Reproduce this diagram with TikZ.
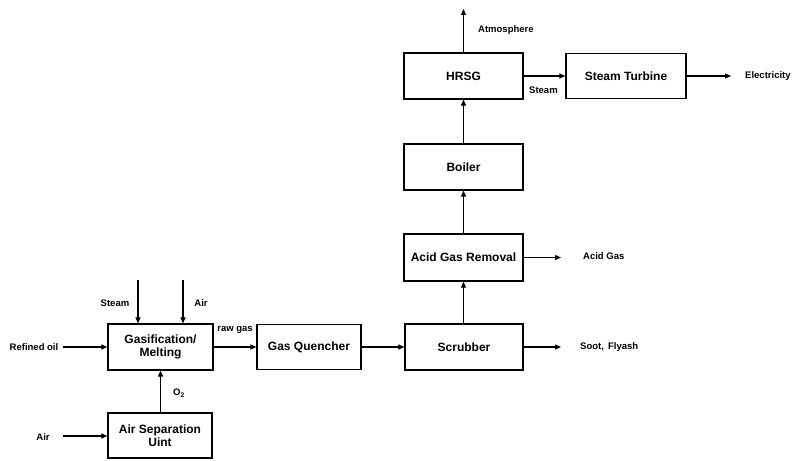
\documentclass[tikz,border=0pt]{standalone}
\usepackage{fontspec}
\setmainfont{Liberation Sans}
\usepackage{tikz}
\usetikzlibrary{
    arrows.meta,
    positioning
}

\tikzset{
    unit/.style={draw, line width=1.2pt, font=\fontsize{12}{13}\selectfont\bfseries,
        align=center, minimum width=119pt, minimum height=46pt, inner sep=2pt},
    flow/.style={line width=1.1pt, -{Triangle[length=6pt,width=5pt]}},
    tag/.style={font=\fontsize{9.5}{10}\selectfont\bfseries, inner sep=1pt}
}

\begin{document}
\begin{tikzpicture}[x=1pt,y=-1pt]

\useasboundingbox (0,0) rectangle (794,460);

% Process units
\node[unit, minimum width=105pt] (gasif) at (160.5,347) {Gasification/\\Melting};
\node[unit, minimum width=104pt, minimum height=45pt] (asu) at (160,435.5) {Air Separation\\Uint};
\node[unit, minimum width=104pt, minimum height=45pt] (quench) at (309,347) {Gas Quencher};
\node[unit, minimum width=118pt] (scrub) at (464,347) {Scrubber};
\node[unit, minimum height=47pt] (agr) at (463.5,257.5) {Acid Gas Removal};
\node[unit] (boiler) at (463.5,167) {Boiler};
\node[unit] (hrsg) at (463.5,76) {HRSG};
\node[unit, minimum width=120pt, minimum height=45pt] (turbine) at (626,76) {Steam Turbine};

% Free ends
\coordinate (oilin) at (63,347);
\coordinate (airin) at (63,436);
\coordinate (steamin) at (138,280);
\coordinate (airtop) at (183,280);
\coordinate (soot) at (561,347);
\coordinate (acid) at (561,257.5);
\coordinate (atm) at (463.5,9);
\coordinate (elec) at (731,76);

% Feeds
\draw[flow] (oilin) -- (gasif.west);
\draw[flow] (airin) -- (airin -| asu.west);
\draw[flow] (steamin) -- (steamin |- gasif.north);
\draw[flow] (airtop) -- (airtop |- gasif.north);
\draw[flow] (asu.north -| gasif) -- (gasif.south);

% Main gas line
\draw[flow] (gasif.east) -- (quench.west);
\draw[flow] (quench.east) -- (scrub.west);
\draw[flow] (scrub.north -| agr) -- (agr.south);
\draw[flow] (agr.north) -- (boiler.south);
\draw[flow] (boiler.north) -- (hrsg.south);
\draw[flow] (hrsg.east) -- (turbine.west);

% Outlets
\draw[flow] (scrub.east) -- (soot);
\draw[flow] (agr.east) -- (acid);
\draw[flow] (hrsg.north) -- (atm);
\draw[flow] (turbine.east) -- (elec);

% Labels
\node[tag] (loil) at (34,347) {Refined oil};
\node[tag] (lair) at (43,437) {Air};
\node[tag] (lsteam) at (115,303) {Steam};
\node[tag] (lairtop) at (201,303) {Air};
\node[tag] (lo2) at (179,393) {O\textsubscript{2}};
\node[tag] (lraw) at (235,330) {raw gas};
\node[tag, anchor=west] (lsoot) at (579,347) {Soot,\, Flyash};
\node[tag, anchor=west] (lacid) at (582,256) {Acid Gas};
\node[tag, anchor=west] (latm) at (477,30) {Atmosphere};
\node[tag, anchor=west] (lsteam2) at (528,90) {Steam};
\node[tag, anchor=west] (lelec) at (744,76) {Electricity};

\end{tikzpicture}
\end{document}
